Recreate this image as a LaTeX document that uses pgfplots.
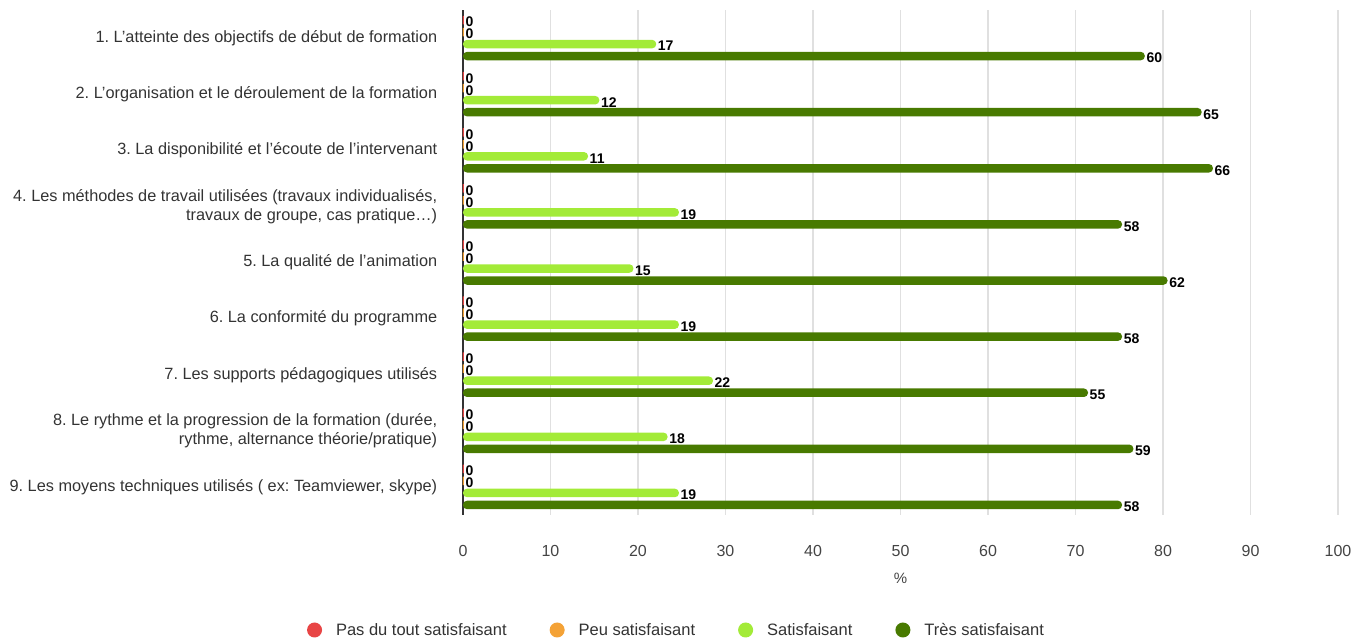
\documentclass[border=0pt]{standalone}
\usepackage{pgfplots}
\pgfplotsset{compat=1.18}
\usepackage{fontspec}
\setmainfont{Liberation Sans}
\frenchspacing
\definecolor{cred}{HTML}{E84545}
\definecolor{corange}{HTML}{F4A236}
\definecolor{clight}{HTML}{A3EB38}
\definecolor{cdark}{HTML}{487A00}
\definecolor{labelgray}{HTML}{333333}
\definecolor{tickgray}{HTML}{444444}
\begin{document}
\begin{tikzpicture}
\useasboundingbox (0,0) rectangle (1353pt,641pt);
\begin{axis}[
  at={(463pt,126pt)}, anchor=south west,
  scale only axis, width=875pt, height=505pt,
  xbar, bar width=8.5pt,
  xmin=0, xmax=100, ymin=0.5, ymax=9.5, y dir=reverse,
  xtick={0,10,...,100}, ytick={1,...,9},
  yticklabels={
    {1. L’atteinte des objectifs de début de formation},
    {2. L’organisation et le déroulement de la formation},
    {3. La disponibilité et l’écoute de l’intervenant},
    {4. Les méthodes de travail utilisées (travaux individualisés,\\travaux de groupe, cas pratique…)},
    {5. La qualité de l’animation},
    {6. La conformité du programme},
    {7. Les supports pédagogiques utilisés},
    {8. Le rythme et la progression de la formation (durée,\\rythme, alternance théorie/pratique)},
    {9. Les moyens techniques utilisés ( ex: Teamviewer, skype)}},
  axis lines*=left,
  x axis line style={draw=none},
  y axis line style={draw=labelgray, line width=1.5pt},
  tick style={draw=none},
  xmajorgrids, grid style={draw=black!12, line width=1.2pt},
  /pgf/number format/assume math mode=true,
  xticklabel style={font=\fontsize{16}{19}\selectfont, text=tickgray, yshift=-27pt},
  yticklabel style={font=\fontsize{16.3}{19}\selectfont, text=labelgray, align=right, xshift=-18pt},
  xlabel={\%}, xlabel style={font=\fontsize{15}{18}\selectfont, text=tickgray, yshift=-9pt},
  nodes near coords, point meta=explicit,
  nodes near coords style={font=\bfseries\fontsize{14}{16}\selectfont, text=black, anchor=west, yshift=-2pt, inner sep=1.5pt},
  legend columns=4,
  legend style={at={(0.244,-0.2277)}, anchor=center, draw=none, font=\fontsize{16.5}{19}\selectfont, text=labelgray,
    /tikz/every odd column/.append style={column sep=12pt},
    /tikz/every even column/.append style={column sep=41pt}},
  legend image code/.code={\fill[#1,draw=none] (0pt,0pt) circle (7.5pt);},
]
\addplot[fill=cred, draw=cred, line width=2.5pt, bar shift=18pt] coordinates {
(0,1)[0] (0,2)[0] (0,3)[0] (0,4)[0] (0,5)[0] (0,6)[0] (0,7)[0] (0,8)[0] (0,9)[0]};
\addplot[fill=corange, draw=corange, line width=2.5pt, bar shift=6pt] coordinates {
(0,1)[0] (0,2)[0] (0,3)[0] (0,4)[0] (0,5)[0] (0,6)[0] (0,7)[0] (0,8)[0] (0,9)[0]};
\addplot[fill=clight, draw=none, rounded corners=4pt, bar shift=-6pt] coordinates {
(22.08,1)[17] (15.58,2)[12] (14.29,3)[11] (24.68,4)[19] (19.48,5)[15] (24.68,6)[19] (28.57,7)[22] (23.38,8)[18] (24.68,9)[19]};
\addplot[fill=cdark, draw=none, rounded corners=4pt, bar shift=-18pt] coordinates {
(77.92,1)[60] (84.42,2)[65] (85.71,3)[66] (75.32,4)[58] (80.52,5)[62] (75.32,6)[58] (71.43,7)[55] (76.62,8)[59] (75.32,9)[58]};
\legend{Pas du tout satisfaisant, Peu satisfaisant, Satisfaisant, Très satisfaisant}
\end{axis}
\end{tikzpicture}
\end{document}
